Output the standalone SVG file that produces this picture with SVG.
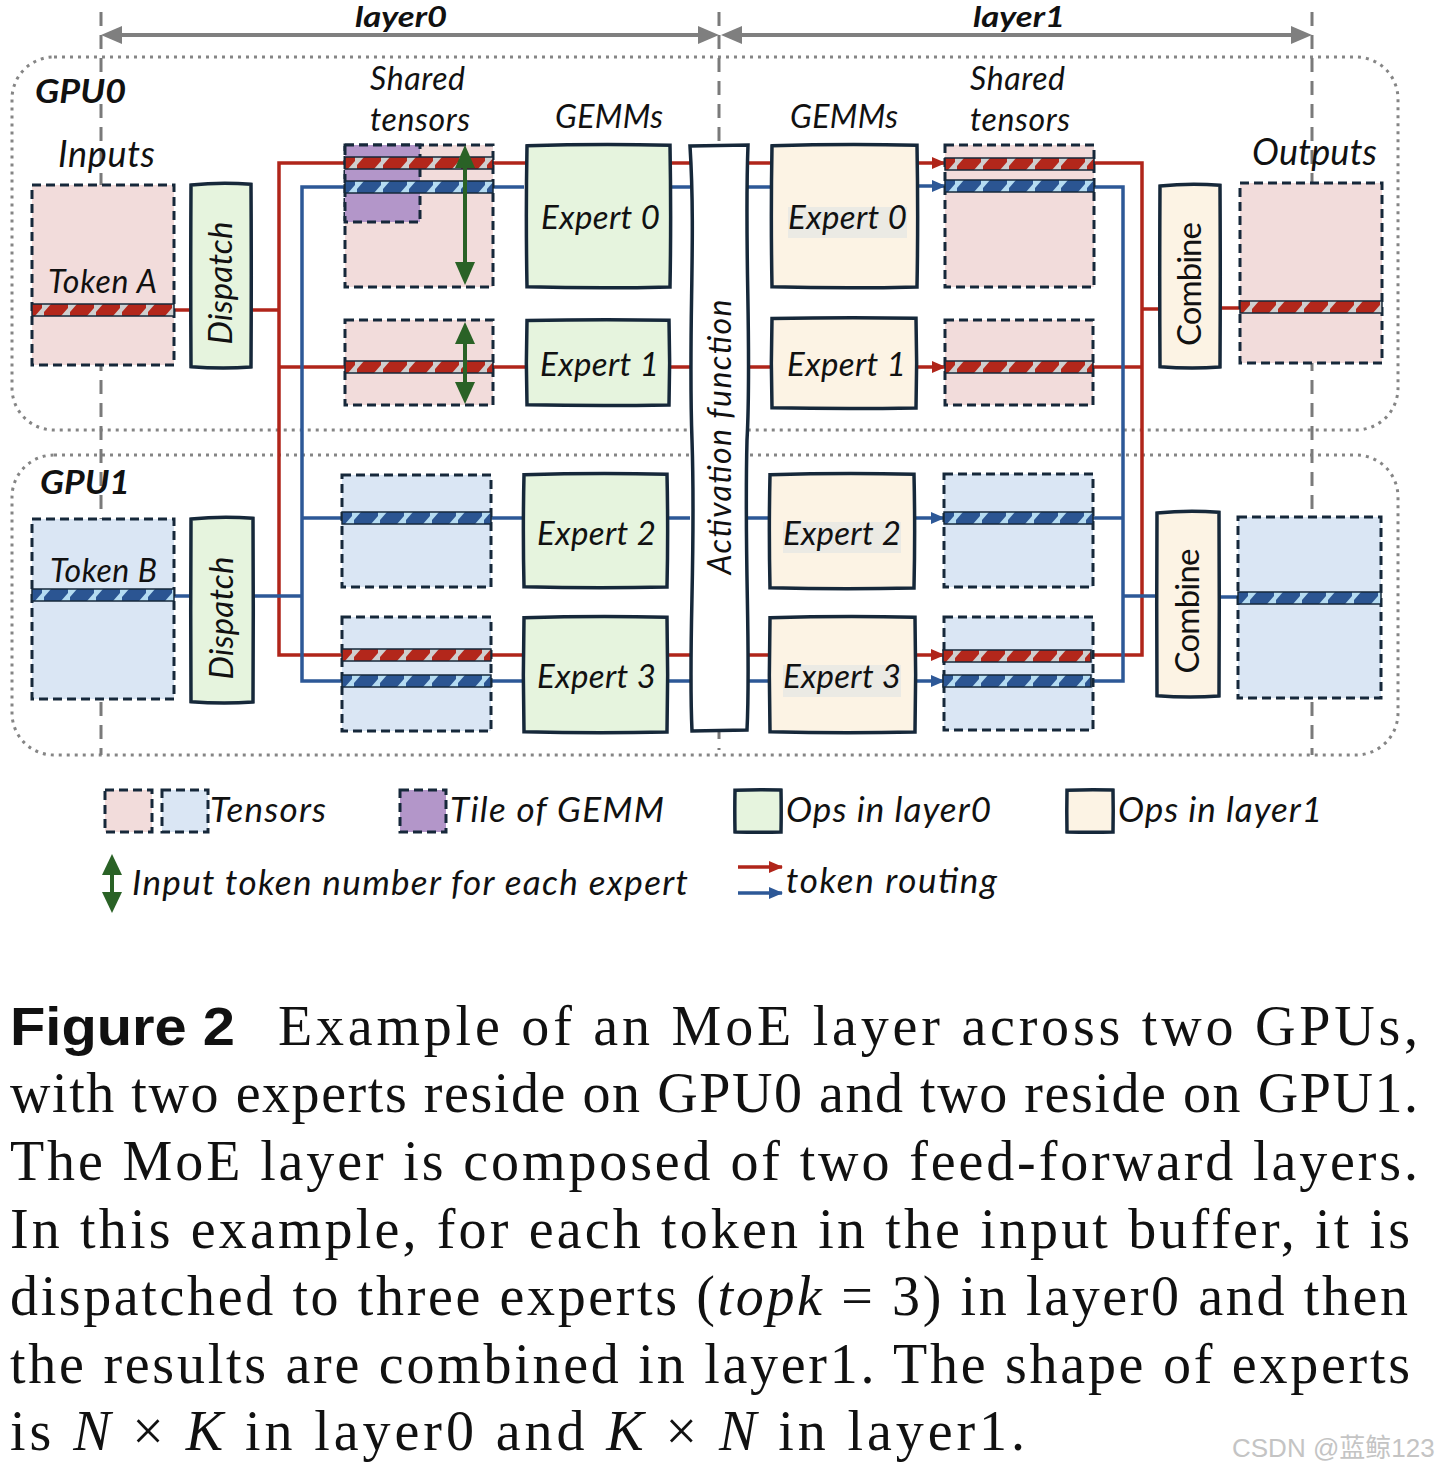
<svg xmlns="http://www.w3.org/2000/svg" xmlns:xlink="http://www.w3.org/1999/xlink" width="1440" height="1474" viewBox="0 0 1440 1474">
<defs>
<style>
.t{font-family:Lato,"Liberation Sans",sans-serif;font-style:italic;fill:#111;}
.tb{font-family:Lato,"Liberation Sans",sans-serif;font-style:italic;font-weight:bold;fill:#111;}
.tu{font-family:Lato,"Liberation Sans",sans-serif;fill:#111;}
.cap{font-family:"Liberation Serif","DejaVu Serif",serif;font-size:56px;fill:#111;}
.tp{fill:#f2dcdb;stroke:#16283a;stroke-width:3;stroke-dasharray:9 5;}
.tbl{fill:#dae6f4;stroke:#16283a;stroke-width:3;stroke-dasharray:9 5;}
.tile{fill:#b396c9;stroke:#16283a;stroke-width:3;stroke-dasharray:9 5;}
.op0{fill:#e6f4de;stroke:#16283a;stroke-width:3.5;}
.op1{fill:#fcf3e4;stroke:#16283a;stroke-width:3.5;}
.sr{fill:url(#pr);stroke:#16283a;stroke-width:1.5;}
.sb{fill:url(#pb);stroke:#16283a;stroke-width:1.5;}
.r{fill:none;stroke:#b0251a;stroke-width:3.5;}
.b{fill:none;stroke:#2d5897;stroke-width:3.5;}
.gd{fill:none;stroke:#7a7a7a;stroke-width:3;stroke-dasharray:14 9;}
.gpu{fill:none;stroke:#858585;stroke-width:3;stroke-dasharray:3 5;}
.ga{stroke:#2a6226;stroke-width:4;fill:none;}
.gah{fill:#2a6226;}
.hl{fill:#ebeae4;}
</style>
<pattern id="pr" width="26" height="12" patternUnits="userSpaceOnUse">
<rect width="26" height="12" fill="#b3271b"/>
<polygon points="3,12 12,12 12,8 19,0 10,0 10,4" fill="#cfcfcf"/>
</pattern>
<pattern id="pb" width="26" height="12" patternUnits="userSpaceOnUse">
<rect width="26" height="12" fill="#2b5592"/>
<polygon points="3,12 12,12 12,8 19,0 10,0 10,4" fill="#b5dcf2"/>
</pattern>
<path id="hd" d="M0,0.6 Q50,-1.2 100,0.2 Q100.9,50 100,100 Q50,101.3 0,99.8 Q-0.9,50 0,0.6 Z" vector-effect="non-scaling-stroke"/>
<marker id="ar" markerWidth="14" markerHeight="12" refX="13" refY="6" orient="auto" markerUnits="userSpaceOnUse"><path d="M0,0 L14,6 L0,12 Z" fill="#b0251a"/></marker>
<marker id="ab" markerWidth="14" markerHeight="12" refX="13" refY="6" orient="auto" markerUnits="userSpaceOnUse"><path d="M0,0 L14,6 L0,12 Z" fill="#2d5897"/></marker>
</defs>
<rect width="1440" height="1474" fill="#ffffff"/>

<g id="background">
<rect class="gpu" x="12" y="57" width="1386" height="373" rx="42"/>
<rect class="gpu" x="12" y="455" width="1386" height="300" rx="42"/>
<line class="gd" x1="101" y1="12" x2="101" y2="755"/>
<line class="gd" x1="719" y1="12" x2="719" y2="750"/>
<line class="gd" x1="1312" y1="12" x2="1312" y2="755"/>
<line x1="115" y1="35" x2="705" y2="35" stroke="#7f7f7f" stroke-width="4"/>
<polygon points="101,35 122,26 122,44" fill="#7f7f7f"/>
<polygon points="719,35 698,26 698,44" fill="#7f7f7f"/>
<line x1="735" y1="35" x2="1298" y2="35" stroke="#7f7f7f" stroke-width="4"/>
<polygon points="721,35 742,26 742,44" fill="#7f7f7f"/>
<polygon points="1312,35 1291,26 1291,44" fill="#7f7f7f"/>
<text class="tb" x="355" y="27" font-size="29" textLength="92" lengthAdjust="spacingAndGlyphs">layer0</text>
<text class="tb" x="973" y="27" font-size="29" textLength="92" lengthAdjust="spacingAndGlyphs">layer1</text>
<text class="tb" x="35" y="103" font-size="33" textLength="91" lengthAdjust="spacingAndGlyphs">GPU0</text>
<text class="tb" x="40" y="494" font-size="33" textLength="90" lengthAdjust="spacingAndGlyphs">GPU1</text>
<text class="t" x="58" y="167" font-size="36" textLength="97">Inputs</text>
<text class="t" x="1252" y="165" font-size="36" textLength="125">Outputs</text>
<text class="t" x="370" y="90" font-size="32" textLength="95">Shared</text>
<text class="t" x="370" y="131" font-size="32" textLength="100">tensors</text>
<text class="t" x="970" y="90" font-size="32" textLength="95">Shared</text>
<text class="t" x="970" y="131" font-size="32" textLength="100">tensors</text>
<text class="t" x="555" y="128" font-size="32" textLength="108">GEMMs</text>
<text class="t" x="790" y="128" font-size="32" textLength="108">GEMMs</text>
</g>

<g id="connectors">
<path class="r" d="M174,310 H191"/>
<path class="r" d="M251,310 H279"/>
<path class="r" d="M345,163 H279 V655 H342"/>
<path class="r" d="M279,367 H345"/>
<path class="b" d="M174,596 H191"/>
<path class="b" d="M253,596 H302"/>
<path class="b" d="M345,187 H302 V681 H342"/>
<path class="b" d="M302,518 H342"/>
<path class="r" d="M493,163 H527"/>
<path class="b" d="M493,187 H524"/>
<path class="r" d="M493,367 H527"/>
<path class="b" d="M491,518 H524"/>
<path class="r" d="M491,655 H524"/>
<path class="b" d="M491,681 H524"/>
<path class="r" d="M670,163 H690"/>
<path class="b" d="M670,187 H690"/>
<path class="r" d="M669,367 H690"/>
<path class="b" d="M667,518 H690"/>
<path class="r" d="M669,655 H690"/>
<path class="b" d="M669,681 H690"/>
<path class="r" d="M748,163 H772"/>
<path class="b" d="M748,187 H772"/>
<path class="r" d="M748,367 H772"/>
<path class="b" d="M748,518 H770"/>
<path class="r" d="M748,655 H770"/>
<path class="b" d="M748,681 H770"/>
<path class="r" d="M917,163 H945" marker-end="url(#ar)"/>
<path class="b" d="M917,186 H945" marker-end="url(#ab)"/>
<path class="r" d="M916,367 H945" marker-end="url(#ar)"/>
<path class="b" d="M914,518 H944" marker-end="url(#ab)"/>
<path class="r" d="M915,655 H944" marker-end="url(#ar)"/>
<path class="b" d="M915,681 H944" marker-end="url(#ab)"/>
<path class="r" d="M1094,163 H1142 V655 H1093"/>
<path class="r" d="M1093,367 H1142"/>
<path class="r" d="M1142,309 H1160"/>
<path class="r" d="M1220,308 H1240"/>
<path class="b" d="M1094,187 H1123 V681 H1093"/>
<path class="b" d="M1093,518 H1123"/>
<path class="b" d="M1123,596 H1157"/>
<path class="b" d="M1219,597 H1238"/>
</g>

<g id="input-gpu0">
<rect class="tp" x="32" y="185" width="142" height="180"/>
<rect class="sr" transform="translate(32,304)" width="142" height="12"/>
<text class="t" x="48" y="293" font-size="32" textLength="109">Token A</text>
</g>
<g id="input-gpu1">
<rect class="tbl" x="32" y="519" width="142" height="180"/>
<rect class="sb" transform="translate(32,589)" width="142" height="12"/>
<text class="t" x="50" y="582" font-size="32" textLength="107">Token B</text>
</g>
<g id="dispatch-gpu0">
<use href="#hd" class="op0" transform="translate(191,184) scale(0.60,1.83)"/>
<text class="t" transform="translate(221,283) rotate(-90)" y="11" font-size="33" text-anchor="middle" textLength="123">Dispatch</text>
</g>
<g id="dispatch-gpu1">
<use href="#hd" class="op0" transform="translate(191,518) scale(0.62,1.84)"/>
<text class="t" transform="translate(222,618) rotate(-90)" y="11" font-size="33" text-anchor="middle" textLength="123">Dispatch</text>
</g>

<g id="shared-l0-e0">
<rect class="tp" x="345" y="145" width="148" height="142"/>
<rect class="tile" x="345" y="145" width="75" height="77"/>
<rect class="sr" transform="translate(345,157)" width="148" height="12"/>
<rect class="sb" transform="translate(345,181)" width="148" height="12"/>
<line class="ga" x1="465" y1="160" x2="465" y2="270"/>
<polygon class="gah" points="465,145 455,168 475,168"/>
<polygon class="gah" points="465,285 455,262 475,262"/>
</g>
<g id="shared-l0-e1">
<rect class="tp" x="345" y="320" width="148" height="85"/>
<rect class="sr" transform="translate(345,361)" width="148" height="12"/>
<line class="ga" x1="465" y1="335" x2="465" y2="390"/>
<polygon class="gah" points="465,322 455,344 475,344"/>
<polygon class="gah" points="465,404 455,382 475,382"/>
</g>
<g id="shared-l0-e2">
<rect class="tbl" x="342" y="475" width="149" height="112"/>
<rect class="sb" transform="translate(342,512)" width="149" height="12"/>
</g>
<g id="shared-l0-e3">
<rect class="tbl" x="342" y="617" width="149" height="114"/>
<rect class="sr" transform="translate(342,649)" width="149" height="12"/>
<rect class="sb" transform="translate(342,675)" width="149" height="12"/>
</g>

<g id="expert0-l0">
<use href="#hd" class="op0" transform="translate(527,145) scale(1.43,1.42)"/>
<text class="t" x="541" y="229" font-size="33" textLength="119">Expert 0</text>
</g>
<g id="expert1-l0">
<use href="#hd" class="op0" transform="translate(527,320) scale(1.42,0.85)"/>
<text class="t" x="540" y="376" font-size="33" textLength="119">Expert 1</text>
</g>
<g id="expert2-l0">
<use href="#hd" class="op0" transform="translate(524,474) scale(1.43,1.13)"/>
<text class="t" x="537" y="545" font-size="33" textLength="119">Expert 2</text>
</g>
<g id="expert3-l0">
<use href="#hd" class="op0" transform="translate(524,617) scale(1.43,1.15)"/>
<text class="t" x="537" y="688" font-size="33" textLength="119">Expert 3</text>
</g>

<g id="activation">
<path d="M690,146 L748,145 C744,250 752,350 747,440 C744,560 751,650 747,730 L692,731 C688,640 696,560 692,440 C688,330 696,240 690,146 Z" fill="#ffffff" stroke="#16283a" stroke-width="3.5"/>
<text class="t" transform="translate(720,437) rotate(-90)" y="11" font-size="32" text-anchor="middle" textLength="275">Activation function</text>
</g>

<g id="expert0-l1">
<use href="#hd" class="op1" transform="translate(772,145) scale(1.45,1.42)"/>
<rect class="hl" x="788" y="207" width="119" height="31"/>
<text class="t" x="788" y="229" font-size="33" textLength="119">Expert 0</text>
</g>
<g id="expert1-l1">
<use href="#hd" class="op1" transform="translate(772,318) scale(1.44,0.90)"/>
<text class="t" x="787" y="376" font-size="33" textLength="119">Expert 1</text>
</g>
<g id="expert2-l1">
<use href="#hd" class="op1" transform="translate(770,474) scale(1.44,1.14)"/>
<rect class="hl" x="783" y="522" width="118" height="31"/>
<text class="t" x="783" y="545" font-size="33" textLength="118">Expert 2</text>
</g>
<g id="expert3-l1">
<use href="#hd" class="op1" transform="translate(770,617) scale(1.45,1.15)"/>
<rect class="hl" x="783" y="665" width="118" height="32"/>
<text class="t" x="783" y="688" font-size="33" textLength="118">Expert 3</text>
</g>

<g id="shared-l1-e0">
<rect class="tp" x="945" y="145" width="149" height="142"/>
<rect class="sr" transform="translate(945,158)" width="149" height="12"/>
<rect class="sb" transform="translate(945,180)" width="149" height="12"/>
</g>
<g id="shared-l1-e1">
<rect class="tp" x="945" y="320" width="148" height="85"/>
<rect class="sr" transform="translate(945,361)" width="148" height="12"/>
</g>
<g id="shared-l1-e2">
<rect class="tbl" x="944" y="474" width="149" height="113"/>
<rect class="sb" transform="translate(944,512)" width="149" height="12"/>
</g>
<g id="shared-l1-e3">
<rect class="tbl" x="944" y="617" width="149" height="113"/>
<rect class="sr" transform="translate(943,650)" width="148" height="12"/>
<rect class="sb" transform="translate(943,675)" width="148" height="12"/>
</g>

<g id="combine-gpu0">
<use href="#hd" class="op1" transform="translate(1160,185) scale(0.60,1.82)"/>
<text class="tu" transform="translate(1190,284) rotate(-90)" y="11" font-size="33" text-anchor="middle" textLength="124">Combine</text>
</g>
<g id="combine-gpu1">
<use href="#hd" class="op1" transform="translate(1157,512) scale(0.62,1.84)"/>
<text class="tu" transform="translate(1188,611) rotate(-90)" y="11" font-size="33" text-anchor="middle" textLength="125">Combine</text>
</g>
<g id="output-gpu0">
<rect class="tp" x="1240" y="183" width="142" height="180"/>
<rect class="sr" transform="translate(1240,301)" width="142" height="12"/>
</g>
<g id="output-gpu1">
<rect class="tbl" x="1238" y="517" width="143" height="181"/>
<rect class="sb" transform="translate(1238,592)" width="143" height="12"/>
</g>

<g id="legend">
<rect class="tp" x="105" y="790" width="47" height="42"/>
<rect class="tbl" x="162" y="790" width="46" height="42"/>
<text class="t" x="210" y="822" font-size="35" textLength="116">Tensors</text>
<rect class="tile" x="400" y="790" width="46" height="42"/>
<text class="t" x="450" y="822" font-size="35" textLength="214">Tile of GEMM</text>
<use href="#hd" class="op0" transform="translate(735,790) scale(0.46,0.42)"/>
<text class="t" x="786" y="822" font-size="35" textLength="205">Ops in layer0</text>
<use href="#hd" class="op1" transform="translate(1067,790) scale(0.46,0.42)"/>
<text class="t" x="1118" y="822" font-size="35" textLength="204">Ops in layer1</text>
<line class="ga" x1="112" y1="868" x2="112" y2="900"/>
<polygon class="gah" points="112,854 102,875 122,875"/>
<polygon class="gah" points="112,913 102,892 122,892"/>
<text class="t" x="132" y="895" font-size="35" textLength="556">Input token number for each expert</text>
<path class="r" d="M738,867 H782" marker-end="url(#ar)"/>
<path class="b" d="M738,893 H782" marker-end="url(#ab)"/>
<text class="t" x="786" y="893" font-size="35" textLength="211">token routing</text>
</g>

<g id="caption">
<text x="10" y="1045" font-family="'Liberation Sans',Arial,sans-serif" font-weight="bold" font-size="54" fill="#111" textLength="225" lengthAdjust="spacingAndGlyphs">Figure 2</text>
<text class="cap" x="278" y="1045" textLength="1140">Example of an MoE layer across two GPUs,</text>
<text class="cap" x="10" y="1112" textLength="1408">with two experts reside on GPU0 and two reside on GPU1.</text>
<text class="cap" x="10" y="1180" textLength="1408">The MoE layer is composed of two feed-forward layers.</text>
<text class="cap" x="10" y="1248" textLength="1400">In this example, for each token in the input buffer, it is</text>
<text class="cap" x="10" y="1315" textLength="1398">dispatched to three experts (<tspan font-style="italic">topk</tspan> = 3) in layer0 and then</text>
<text class="cap" x="10" y="1383" textLength="1400">the results are combined in layer1. The shape of experts</text>
<text class="cap" x="10" y="1450" textLength="1015">is <tspan font-style="italic">N</tspan> × <tspan font-style="italic">K</tspan> in layer0 and <tspan font-style="italic">K</tspan> × <tspan font-style="italic">N</tspan> in layer1.</text>
<text x="1232" y="1457" font-family="'Liberation Sans','Noto Sans CJK SC',sans-serif" font-size="26" fill="#c4c4c4">CSDN @蓝鲸123</text>
</g>
</svg>
